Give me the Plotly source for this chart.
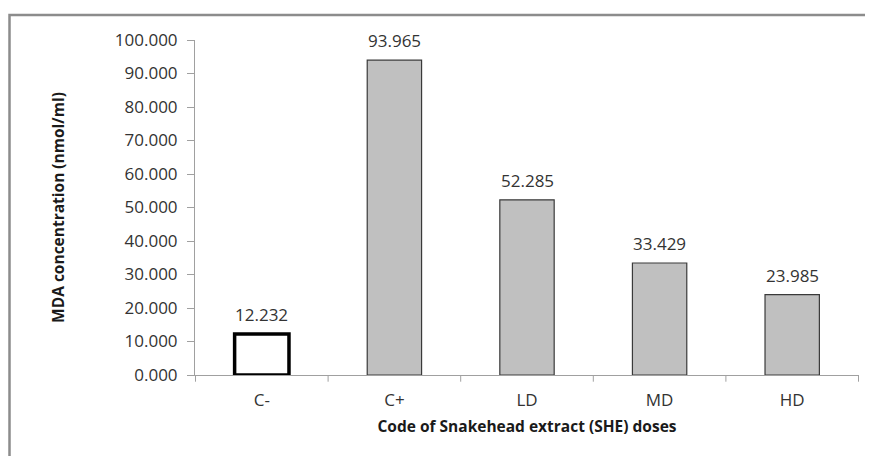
import plotly.graph_objects as go

categories = ["C-", "C+", "LD", "MD", "HD"]
values = [12.232, 93.965, 52.285, 33.429, 23.985]
fill_colors = ["#FFFFFF", "#C0C0C0", "#C0C0C0", "#C0C0C0", "#C0C0C0"]
line_colors = ["#000000", "#3A3A3A", "#3A3A3A", "#3A3A3A", "#3A3A3A"]
line_widths = [3.5, 1.2, 1.2, 1.2, 1.2]
y_ticks = [0, 10, 20, 30, 40, 50, 60, 70, 80, 90, 100]

FONT = "Open Sans"
FS = 17
TS = 15.5

fig = go.Figure()
fig.add_trace(go.Bar(
    x=categories,
    y=values,
    marker=dict(color=fill_colors, line=dict(color=line_colors, width=line_widths)),
    width=0.41,
    showlegend=False,
))

for c, v in zip(categories, values):
    fig.add_annotation(x=c, y=v, text=f"{v:.3f}", showarrow=False,
                       yanchor="bottom", yshift=6,
                       font=dict(family=FONT, size=FS, color="#333333"))

fig.update_layout(
    width=857, height=448,
    margin=dict(l=187, r=6, t=32, b=81, autoexpand=False),
    paper_bgcolor="white", plot_bgcolor="white",
    font=dict(family=FONT, size=FS, color="#333333"),
    xaxis=dict(
        showline=True, linecolor="#A0A0A0", linewidth=1,
        ticks="", tickfont=dict(size=FS), ticklabelstandoff=10,
        title=dict(text="<b>Code of Snakehead extract (SHE) doses</b>",
                   font=dict(size=TS, color="#1a1a1a"), standoff=10),
        showgrid=False, zeroline=False, automargin=False,
    ),
    yaxis=dict(
        range=[0, 100], tickvals=y_ticks, tickformat=".3f",
        showline=True, linecolor="#A0A0A0", linewidth=1,
        ticks="outside", ticklen=7, tickcolor="#A0A0A0",
        ticklabelstandoff=6,
        title=dict(text="<b>MDA concentration (nmol/ml)</b>",
                   font=dict(size=TS, color="#1a1a1a"), standoff=46),
        showgrid=False, zeroline=False, automargin=False,
    ),
    bargap=0.59,
)

# category boundary tick marks on x axis
for i in range(len(categories) + 1):
    fig.add_shape(type="line", xref="x", yref="paper",
                  x0=i - 0.5, x1=i - 0.5, y0=0, y1=-0.02,
                  line=dict(color="#A0A0A0", width=1))

# outer chart border
fig.add_shape(type="rect", xref="paper", yref="paper",
              x0=(1.5 - 187) / 664, x1=1.2, y0=-0.5, y1=(367 - 7) / 335,
              line=dict(color="#8C8C8C", width=2.5), layer="below")

fig.write_html("out.html")
